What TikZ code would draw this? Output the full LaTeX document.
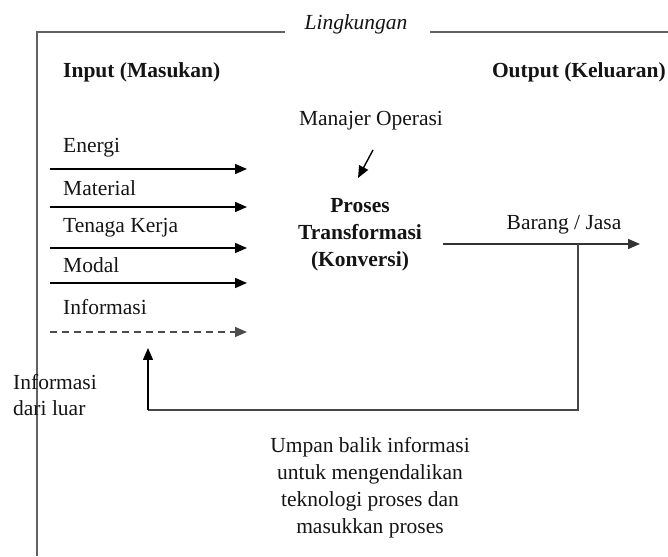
\documentclass[tikz,border=0pt]{standalone}
\usepackage{fontspec}
\setmainfont{Liberation Serif}
\usetikzlibrary{arrows.meta}
\begin{document}
\begin{tikzpicture}[x=1pt,y=1pt,
  txt/.style={inner sep=0pt,text=black!92,font=\fontsize{21.5}{27}\selectfont},
  btxt/.style={txt,font=\fontsize{21.5}{27}\selectfont\bfseries},
  frameline/.style={draw=black!62,line width=2.2pt},
  flow/.style={draw=black,line width=1.4pt,-{Triangle[length=12pt,width=10pt]}},
  plainline/.style={draw=black!72,line width=1.6pt}]
\useasboundingbox (0,0) rectangle (668,556);
% frame
\node[txt,font=\fontsize{21.5}{27}\selectfont\itshape] (ling) at (356,532) {Lingkungan};
\coordinate (fl) at (37,0);
\coordinate (ftl) at (37,524);
\coordinate (ftm) at (285,524);
\coordinate (ftn) at (430,524);
\coordinate (ftr) at (668,524);
\draw[frameline] (fl) -- (ftl) -- (ftm);
\draw[frameline] (ftn) -- (ftr);
% headings
\node[btxt,anchor=west] (inp) at (63,484) {Input (Masukan)};
\node[btxt,anchor=east] (outp) at (666,484) {Output (Keluaran)};
\node[txt] (man) at (371,435) {Manajer Operasi};
\node[btxt,align=center] (proc) at (360,321) {Proses\\Transformasi\\(Konversi)};
% manager arrow
\coordinate (ma) at (373,406);
\coordinate (mb) at (358,378);
\draw[flow] (ma) -- (mb);
% inputs
\node[txt,anchor=west] (l1) at (63,408) {Energi};
\node[txt,anchor=west] (l2) at (63,368) {Material};
\node[txt,anchor=west] (l3) at (63,328) {Tenaga Kerja};
\node[txt,anchor=west] (l4) at (63,291) {Modal};
\node[txt,anchor=west] (l5) at (63,249) {Informasi};
\foreach \i/\y in {1/387,2/349,3/308,4/273}{
  \coordinate (s\i) at (50,\y);
  \coordinate (e\i) at (247,\y);
  \draw[flow] (s\i) -- (e\i);
}
\coordinate (s5) at (50,224);
\coordinate (e5) at (247,224);
\draw[flow,draw=black!70,dash pattern=on 7pt off 5pt] (s5) -- (e5);
% output
\coordinate (os) at (443,312);
\coordinate (oe) at (640,312);
\coordinate (oj) at (578,312);
\draw[flow,line width=1.5pt,draw=black!80] (os) -- (oe);
\node[txt] (brg) at (564,331) {Barang / Jasa};
% feedback
\coordinate (fb1) at (578,146);
\coordinate (fb2) at (148,146);
\coordinate (fb3) at (148,208);
\draw[plainline] (oj) -- (fb1) -- (fb2);
\draw[flow] (fb2) -- (fb3);
\node[txt,anchor=west,align=left,font=\fontsize{21.5}{26}\selectfont] (luar) at (13,161) {Informasi\\dari luar};
\node[txt,align=center] (umpan) at (370,68) {Umpan balik informasi\\untuk mengendalikan\\teknologi proses dan\\masukkan proses};
\end{tikzpicture}
\end{document}
